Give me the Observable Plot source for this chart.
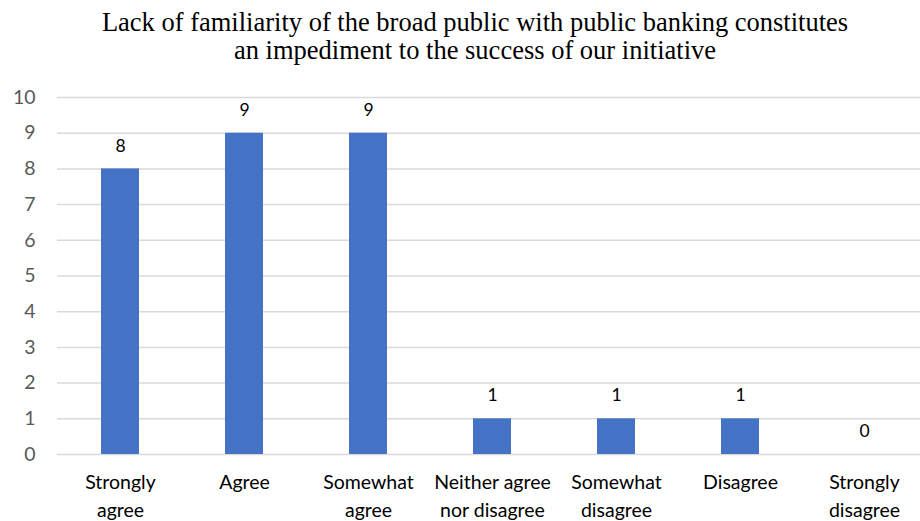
<!DOCTYPE html>
<html>
<head>
<meta charset="utf-8">
<script src="https://cdn.jsdelivr.net/npm/d3@7"></script>
<script src="https://cdn.jsdelivr.net/npm/@observablehq/plot@0.6"></script>
<style>
  body { margin: 0; background: #fff; width: 920px; overflow: hidden; }
  #title { font-family: "Liberation Serif", "Times New Roman", serif; font-size: 26.5px; color: #000;
           text-align: center; line-height: 28px; height: 70px; box-sizing: border-box; padding-top: 8px; padding-left: 30px; white-space: nowrap; }
  svg { display: block; }
</style>
</head>
<body>
<div id="title">Lack of familiarity of the broad public with public banking constitutes<br>an impediment to the success of our initiative</div>
<div id="chart"></div>
<script>
const categories = ["Strongly\nagree", "Agree", "Somewhat\nagree", "Neither agree\nnor disagree", "Somewhat\ndisagree", "Disagree", "Strongly\ndisagree"];
const counts = [8, 9, 9, 1, 1, 1, 0];
const yTicks = [0, 1, 2, 3, 4, 5, 6, 7, 8, 9, 10];

const data = categories.map((c, i) => ({category: c, count: counts[i]}));

const chart = Plot.plot({
  width: 920,
  height: 451,
  marginTop: 27,
  marginBottom: 67,
  marginLeft: 57,
  marginRight: 0,
  style: {fontFamily: "Lato, 'Open Sans', sans-serif", background: "#fff"},
  x: {domain: categories, range: [57, 927], paddingInner: 0.694, paddingOuter: 0.347, align: 0.5, label: null},
  y: {domain: [0, 10], ticks: yTicks, label: null},
  marks: [
    Plot.ruleY(yTicks, {stroke: "#d9d9d9", strokeWidth: 1.5}),
    Plot.barY(data, {x: "category", y: "count", fill: "#4472C4"}),
    Plot.text(data, {x: "category", y: "count", text: d => String(d.count), dy: -23, fill: "#000", fontSize: 17.5}),
    Plot.axisY({ticks: yTicks, tickSize: 0, tickPadding: 22, fontSize: 19.5, color: "#595959", label: null}),
    Plot.axisX({tickSize: 0, tickPadding: 14.5, fontSize: 19.5, lineHeight: 1.44, color: "#000", label: null})
  ]
});
document.getElementById("chart").appendChild(chart);
</script>
</body>
</html>
